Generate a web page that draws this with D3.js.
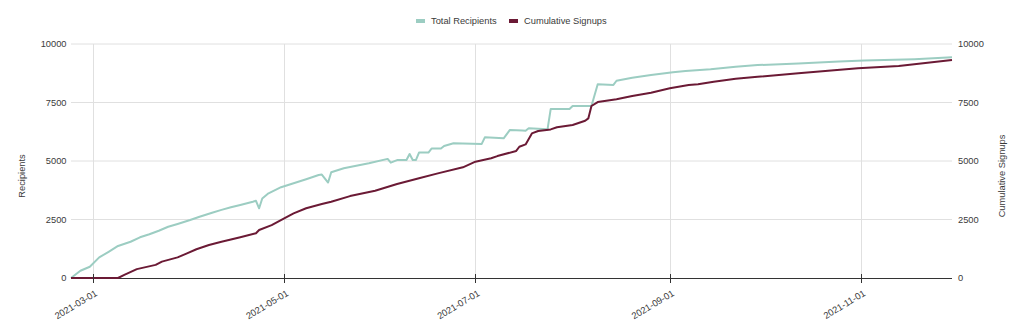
<!DOCTYPE html>
<html><head><meta charset="utf-8">
<script src="https://cdn.jsdelivr.net/npm/d3@7"></script>
<style>
body{margin:0;background:#fff;}
text{font-family:"Liberation Sans",Arial,sans-serif;fill:#3a3a3a;}
</style></head>
<body><svg id="c" width="1024" height="332"></svg>
<script>
const recipientDates = ["2021-02-22","2021-02-25","2021-02-28","2021-03-03","2021-03-06","2021-03-09","2021-03-13","2021-03-16","2021-03-19","2021-03-22","2021-03-25","2021-03-28","2021-04-01","2021-04-04","2021-04-08","2021-04-11","2021-04-14","2021-04-17","2021-04-21","2021-04-22","2021-04-23","2021-04-24","2021-04-26","2021-04-30","2021-05-04","2021-05-08","2021-05-12","2021-05-13","2021-05-15","2021-05-16","2021-05-20","2021-05-28","2021-06-03","2021-06-04","2021-06-06","2021-06-09","2021-06-10","2021-06-11","2021-06-12","2021-06-13","2021-06-16","2021-06-17","2021-06-20","2021-06-21","2021-06-24","2021-07-03","2021-07-04","2021-07-10","2021-07-12","2021-07-16","2021-07-17","2021-07-18","2021-07-24","2021-07-25","2021-07-31","2021-08-01","2021-08-07","2021-08-09","2021-08-14","2021-08-15","2021-08-20","2021-08-26","2021-09-02","2021-09-06","2021-09-14","2021-09-22","2021-09-29","2021-10-12","2021-10-25","2021-11-02","2021-11-18","2021-11-30"];
const recipientValues = [0,310,480,880,1120,1370,1550,1740,1870,2020,2190,2310,2480,2620,2790,2910,3020,3120,3260,3300,2980,3400,3620,3880,4050,4220,4400,4420,4080,4520,4690,4900,5090,4930,5040,5040,5300,5040,5040,5360,5360,5530,5530,5640,5760,5730,6010,5970,6330,6300,6290,6400,6360,7220,7220,7350,7350,8280,8250,8430,8560,8680,8790,8850,8920,9030,9100,9170,9250,9290,9350,9430];
const signupDates = ["2021-02-22","2021-03-09","2021-03-11","2021-03-15","2021-03-21","2021-03-23","2021-03-28","2021-03-31","2021-04-03","2021-04-07","2021-04-11","2021-04-17","2021-04-22","2021-04-23","2021-04-27","2021-05-01","2021-05-04","2021-05-08","2021-05-13","2021-05-16","2021-05-22","2021-05-30","2021-06-06","2021-06-13","2021-06-19","2021-06-27","2021-07-01","2021-07-06","2021-07-08","2021-07-14","2021-07-15","2021-07-17","2021-07-19","2021-07-21","2021-07-25","2021-07-27","2021-08-01","2021-08-05","2021-08-06","2021-08-07","2021-08-09","2021-08-15","2021-08-20","2021-08-26","2021-09-01","2021-09-07","2021-09-10","2021-09-15","2021-09-22","2021-09-29","2021-10-12","2021-10-31","2021-11-13","2021-11-30"];
const signupValues = [0,0,130,380,560,700,880,1050,1230,1410,1550,1740,1910,2050,2260,2550,2760,2980,3160,3260,3500,3730,4020,4260,4470,4730,4970,5120,5210,5430,5610,5710,6180,6280,6350,6440,6540,6720,6820,7350,7520,7640,7780,7920,8110,8250,8280,8390,8510,8600,8750,8960,9060,9320];
const xTickLabels = ["2021-03-01","2021-05-01","2021-07-01","2021-09-01","2021-11-01"];
const yTickValues = [0,2500,5000,7500,10000];
const seriesNames = ["Total Recipients","Cumulative Signups"];
const seriesColors = ["#9ccdc2","#6b1a35"];

(function(){
const parse = d3.timeParse("%Y-%m-%d");
const svg = d3.select("#c");
const pl = 71, pr = 952, pt = 44, pb = 278;
const fs = 9.3;
const x = d3.scaleTime().domain([parse("2021-02-22"), parse("2021-11-30")]).range([pl, pr]);
const yL = d3.scaleLinear().domain([0,10000]).range([pb, pt]);
const yR = d3.scaleLinear().domain([0,10000]).range([pb, pt]);

svg.append("g").selectAll("line").data(yTickValues.filter(v=>v>0)).join("line")
  .attr("x1", pl).attr("x2", pr).attr("y1", d=>yL(d)).attr("y2", d=>yL(d))
  .attr("stroke", "#e0e0e0").attr("stroke-width", 1);
svg.append("g").selectAll("line").data(xTickLabels).join("line")
  .attr("x1", d=>Math.round(x(parse(d)))+0.5).attr("x2", d=>Math.round(x(parse(d)))+0.5)
  .attr("y1", pt).attr("y2", pb)
  .attr("stroke", "#e0e0e0").attr("stroke-width", 1);

svg.append("g").selectAll("text").data(yTickValues).join("text")
  .attr("x", 66.5).attr("y", d=>yL(d)).attr("dy", "0.35em").attr("text-anchor", "end")
  .attr("font-size", fs).text(d=>d);
svg.append("g").selectAll("text").data(yTickValues).join("text")
  .attr("x", 958).attr("y", d=>yR(d)).attr("dy", "0.35em").attr("text-anchor", "start")
  .attr("font-size", fs).text(d=>d);

svg.append("text").attr("transform", "translate(25,176) rotate(-90)").attr("text-anchor","middle")
  .attr("font-size", fs).text("Recipients");
svg.append("text").attr("transform", "translate(1005,176) rotate(-90)").attr("text-anchor","middle")
  .attr("font-size", fs).text("Cumulative Signups");

const lineL = d3.line().x(d=>x(d.date)).y(d=>yL(d.v));
const lineR = d3.line().x(d=>x(d.date)).y(d=>yR(d.v));
const recData = recipientDates.map((d,i)=>({date:parse(d), v:recipientValues[i]}));
const sigData = signupDates.map((d,i)=>({date:parse(d), v:signupValues[i]}));
svg.append("path").datum(recData).attr("d", lineL).attr("fill","none")
  .attr("stroke", seriesColors[0]).attr("stroke-width", 2).attr("stroke-linejoin","round");

svg.append("line").attr("x1", pl).attr("x2", pr).attr("y1", pb+0.5).attr("y2", pb+0.5)
  .attr("stroke", "#333").attr("stroke-width", 1);
svg.append("path").datum(sigData).attr("d", lineR).attr("fill","none")
  .attr("stroke", seriesColors[1]).attr("stroke-width", 2).attr("stroke-linejoin","round");

svg.append("g").selectAll("line").data(xTickLabels).join("line")
  .attr("x1", d=>Math.round(x(parse(d)))+0.5).attr("x2", d=>Math.round(x(parse(d)))+0.5)
  .attr("y1", pb-4).attr("y2", pb+5).attr("stroke","#333");
svg.append("g").selectAll("text").data(xTickLabels).join("text")
  .attr("transform", d=>`translate(${x(parse(d))+5},${pb+17}) rotate(-31)`)
  .attr("text-anchor","end").attr("font-size", fs).text(d=>d);

const lg = svg.append("g");
const legendX = [416, 509];
seriesNames.forEach((n,i)=>{
  lg.append("rect").attr("x", legendX[i]).attr("y", 19).attr("width", 9).attr("height", 4)
    .attr("fill", seriesColors[i]);
  lg.append("text").attr("x", legendX[i]+15).attr("y", 21).attr("dy","0.35em")
    .attr("font-size", fs).text(n);
});
})();
</script></body></html>
